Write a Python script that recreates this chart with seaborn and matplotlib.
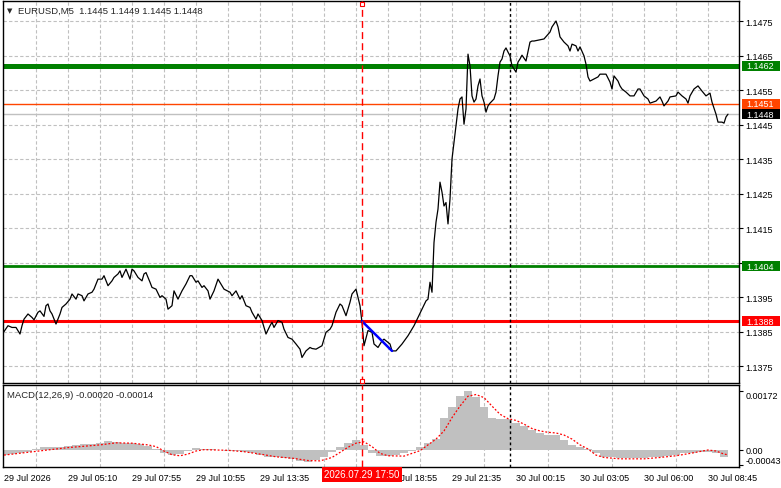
import matplotlib
matplotlib.use("Agg")
import matplotlib.pyplot as plt
from matplotlib.patches import Rectangle
import seaborn as sns

# EURUSD M5 close path, x = bar number counted from the left edge of the chart
bars = [0, 2, 4, 6, 8, 9, 10, 12, 14, 15, 17, 18, 20, 21, 22, 23, 24, 26, 28, 29,
        31, 33, 34, 36, 37, 39, 40, 42, 44, 45, 47, 49, 50, 52, 54, 55, 57, 58, 59, 61,
        63, 64, 65, 67, 69, 70, 71, 73, 74, 76, 78, 79, 81, 82, 84, 85, 87, 89, 91, 93,
        94, 96, 97, 99, 100, 102, 103, 105, 107, 109, 110, 113, 114, 116, 118, 119, 121, 123, 124, 126,
        127, 129, 130, 131, 133, 134, 135, 137, 139, 140, 142, 144, 146, 148, 149, 151, 153, 154, 156, 159,
        161, 163, 164, 166, 168, 169, 171, 173, 174, 176, 178, 179, 180, 182, 184, 185, 187, 189, 190, 193,
        194, 196, 199, 202, 205, 207, 209, 211, 212, 213, 214, 215, 216, 217, 218, 219, 220, 221, 222, 223,
        224, 225, 226, 227, 228, 229, 230, 231, 232, 233, 234, 235, 236, 237, 238, 239, 240, 241, 242, 243,
        245, 246, 247, 248, 249, 250, 251, 252, 253, 254, 255, 256, 257, 258, 259, 261, 263, 264, 265, 270,
        273, 274, 276, 277, 278, 280, 282, 283, 284, 286, 287, 288, 290, 291, 292, 293, 295, 297, 298, 301,
        303, 304, 305, 307, 308, 309, 311, 313, 315, 317, 318, 320, 322, 323, 326, 328, 329, 330, 332, 333,
        336, 337, 339, 341, 342, 343, 345, 347, 349, 351, 353, 354, 356, 357, 359, 360, 361, 362]
close = [1.13850, 1.13867, 1.13862, 1.13862, 1.13843, 1.13867, 1.13886, 1.13901, 1.13891, 1.13884,
         1.13906, 1.13910, 1.13894, 1.13925, 1.13930, 1.13910, 1.13901, 1.13872, 1.13901, 1.13920,
         1.13930, 1.13944, 1.13959, 1.13944, 1.13959, 1.13954, 1.13939, 1.13959, 1.13964, 1.13973,
         1.14002, 1.14002, 1.14012, 1.13983, 1.13997, 1.14007, 1.14017, 1.14026, 1.14007, 1.14031,
         1.14002, 1.14031, 1.14026, 1.14007, 1.13997, 1.14017, 1.14021, 1.13993, 1.13978, 1.13973,
         1.13949, 1.13954, 1.13944, 1.13915, 1.13925, 1.13968, 1.13944, 1.13968, 1.13988, 1.14012,
         1.14012, 1.13993, 1.13997, 1.13978, 1.13983, 1.13968, 1.13944, 1.13968, 1.14002, 1.13983,
         1.13973, 1.13964, 1.13954, 1.13968, 1.13944, 1.13954, 1.13925, 1.13920, 1.13906, 1.13886,
         1.13901, 1.13882, 1.13862, 1.13843, 1.13867, 1.13877, 1.13862, 1.13882, 1.13877, 1.13857,
         1.13833, 1.13828, 1.13814, 1.13799, 1.13775, 1.13794, 1.13804, 1.13801, 1.13799, 1.13809,
         1.13848, 1.13857, 1.13867, 1.13906, 1.13930, 1.13925, 1.13896, 1.13935, 1.13959, 1.13973,
         1.13925, 1.13877, 1.13809, 1.13853, 1.13848, 1.13814, 1.13804, 1.13823, 1.13828, 1.13814,
         1.13794, 1.13794, 1.13814, 1.13838, 1.13867, 1.13891, 1.13915, 1.13939, 1.13944, 1.13993,
         1.13964, 1.14108, 1.14167, 1.14205, 1.14283, 1.14254, 1.14214, 1.14224, 1.14162, 1.14234,
         1.14350, 1.14399, 1.14446, 1.14495, 1.14524, 1.14530, 1.14451, 1.14495, 1.14654, 1.14620,
         1.14533, 1.14515, 1.14524, 1.14562, 1.14582, 1.14533, 1.14515, 1.14486, 1.14504, 1.14512,
         1.14524, 1.14544, 1.14591, 1.14631, 1.14640, 1.14663, 1.14672, 1.14660, 1.14649, 1.14620,
         1.14611, 1.14602, 1.14631, 1.14640, 1.14651, 1.14634, 1.14689, 1.14692, 1.14692, 1.14698,
         1.14718, 1.14733, 1.14750, 1.14733, 1.14704, 1.14689, 1.14678, 1.14663, 1.14683, 1.14678,
         1.14663, 1.14675, 1.14649, 1.14625, 1.14588, 1.14576, 1.14582, 1.14588, 1.14596, 1.14596,
         1.14573, 1.14553, 1.14591, 1.14576, 1.14562, 1.14553, 1.14544, 1.14533, 1.14533, 1.14553,
         1.14553, 1.14533, 1.14524, 1.14512, 1.14518, 1.14530, 1.14518, 1.14504, 1.14518, 1.14530,
         1.14533, 1.14544, 1.14533, 1.14524, 1.14512, 1.14533, 1.14553, 1.14562, 1.14547, 1.14533,
         1.14541, 1.14515, 1.14480, 1.14457, 1.14457, 1.14454, 1.14472, 1.14480]

# horizontal levels drawn on the chart
levels = [1.1462, 1.1451, 1.1448, 1.1404, 1.1388]
level_colors = ["#008000", "#FF4500", "#C0C0C0", "#008000", "#FF0000"]
level_widths = [3.6, 1.0, 1.0, 2.0, 2.2]
level_box = ["#008000", "#FF4500", "#000000", "#008000", "#FF0000"]

# blue trend segment
trend_bars = [179, 194]
trend_prices = [1.1388, 1.13794]

# MACD(12,26,9) histogram, sampled every 4 bars
hist_bars = list(range(0, 361, 4))
hist_vals = [-0.00015, -0.00013, -0.00010, -0.00005, 0.00003, 0.00008, 0.00010, 0.00010, 0.00012, 0.00016,
             0.00018, 0.00019, 0.00022, 0.00026, 0.00024, 0.00021, 0.00020, 0.00017, 0.00012, 0.00003,
             -0.00008, -0.00014, -0.00012, -0.00002, 0.00006, 0.00004, 0.00002, 0.00000, -0.00002, -0.00004,
             -0.00006, -0.00010, -0.00016, -0.00020, -0.00022, -0.00024, -0.00026, -0.00033, -0.00035, -0.00030,
             -0.00022, -0.00005, 0.00010, 0.00020, 0.00028, 0.00015, -0.00008, -0.00018, -0.00018, -0.00016,
             -0.00010, -0.00002, 0.00010, 0.00022, 0.00032, 0.00095, 0.00125, 0.00160, 0.00172, 0.00155,
             0.00125, 0.00095, 0.00092, 0.00090, 0.00080, 0.00070, 0.00060, 0.00050, 0.00045, 0.00044,
             0.00030, 0.00015, 0.00010, 0.00003, -0.00010, -0.00020, -0.00022, -0.00024, -0.00025, -0.00025,
             -0.00024, -0.00022, -0.00020, -0.00017, -0.00014, -0.00010, -0.00008, -0.00005, -0.00005, -0.00008,
             -0.00020]

# signal line
sig_bars = [0, 16, 32, 48, 56, 64, 72, 76, 80, 84, 88, 92, 96, 100, 112, 120, 128, 136, 144, 152,
            158, 164, 168, 172, 176, 180, 184, 188, 192, 200, 208, 216, 220, 224, 228, 232, 236, 240, 244, 248,
            252, 256, 260, 264, 268, 272, 276, 280, 284, 288, 292, 296, 300, 308, 320, 328, 336, 344, 352, 356,
            360, 362]
sig_vals = [-0.00015, -0.00004, 0.00007, 0.00015, 0.00021, 0.00020, 0.00015, 0.00010, -0.00003, -0.00014,
            -0.00017, -0.00012, -0.00003, 0.00001, -0.00001, -0.00005, -0.00012, -0.00020, -0.00024, -0.00031,
            -0.00032, -0.00022, -0.00007, 0.00008, 0.00020, 0.00024, 0.00010, -0.00010, -0.00017, -0.00018,
            -0.00002, 0.00032, 0.00056, 0.00095, 0.00129, 0.00158, 0.00163, 0.00154, 0.00129, 0.00105,
            0.00092, 0.00087, 0.00076, 0.00063, 0.00056, 0.00052, 0.00050, 0.00044, 0.00032, 0.00015,
            0.00003, -0.00015, -0.00022, -0.00026, -0.00026, -0.00022, -0.00017, -0.00009, 0.00000, -0.00003,
            -0.00012, -0.00014]

price_ticks = [1.1375, 1.1385, 1.1395, 1.1405, 1.1415, 1.1425, 1.1435, 1.1445, 1.1455, 1.1465, 1.1475]
hidden_tick = 1.1405  # its label sits under the 1.1404 box
grid_bars = list(range(16, 353, 16))
time_bars = [0, 32, 64, 96, 128, 192, 224, 256, 288, 320, 352]
time_labels = ["29 Jul 2026", "29 Jul 05:10", "29 Jul 07:55", "29 Jul 10:55", "29 Jul 13:35",
               "29 Jul 18:55", "29 Jul 21:35", "30 Jul 00:15", "30 Jul 03:05", "30 Jul 06:00",
               "30 Jul 08:45"]
macd_ticks = [-0.00043, 0.0, 0.00172]
macd_tick_labels = ["-0.00043", "0.00", "0.00172"]
cursor_bar = 179
cursor_label = "2026.07.29 17:50"
day_sep_bar = 253

sns.set_style("white")
plt.rcParams["font.family"] = ["Liberation Sans", "DejaVu Sans"]
FS = 6.5
GRID = "#C0C0C0"

fig = plt.figure(figsize=(7.81, 4.89), dpi=100)
ax = fig.add_axes([3 / 781, 1 - 384 / 489, 736 / 781, 382 / 489])
mx = fig.add_axes([3 / 781, 1 - 468 / 489, 736 / 781, 82 / 489])

for a in (ax, mx):
    a.set_xlim(-0.5, 367.5)
    for s in a.spines.values():
        s.set_color("black")
        s.set_linewidth(1.0)
        s.set_visible(True)
    a.axvline(cursor_bar, color="#FF0000", lw=1.0, ls=(0, (5, 3)), zorder=4)
    a.axvline(day_sep_bar, color="black", lw=1.0, ls=(0, (2, 2)), zorder=4)

# --- price panel
ax.set_ylim(1.13701, 1.14808)
ax.set_xticks(grid_bars)
ax.set_xticklabels([])
ax.tick_params(axis="x", length=0)
ax.grid(axis="x", color=GRID, ls=(0, (3, 2)), lw=0.8)
ax.yaxis.tick_right()
ax.set_yticks(price_ticks)
ax.set_yticklabels(["" if p == hidden_tick else f"{p:.4f}" for p in price_ticks])
ax.tick_params(axis="y", direction="out", length=3, width=0.8, pad=1.5, labelsize=FS, colors="black")
ax.grid(axis="y", color=GRID, ls=(0, (3, 2)), lw=0.8)

box_w = 38 / 736
box_h = 10 / 34500
box_tf = ax.get_yaxis_transform()
for lv, c, w, bc in zip(levels, level_colors, level_widths, level_box):
    ax.axhline(lv, color=c, lw=w, zorder=2)
    ax.add_patch(Rectangle((1.0035, lv - box_h / 2), box_w, box_h, transform=box_tf,
                           fc=bc, ec="none", clip_on=False, zorder=6))
    ax.text(1.0035 + box_w / 2, lv, f"{lv:.4f}", transform=box_tf, ha="center", va="center",
            fontsize=FS, color="white", clip_on=False, zorder=7)

sns.lineplot(x=bars, y=close, ax=ax, color="black", lw=0.9, estimator=None, zorder=3)
sns.lineplot(x=trend_bars, y=trend_prices, ax=ax, color="#0000FF", lw=1.8, estimator=None, zorder=3)
ax.set_xlabel("")
ax.set_ylabel("")

for yf in (0.992, 0.006):
    ax.plot(cursor_bar, yf, marker="s", ms=3.2, mfc="white", mec="#FF0000", mew=0.8,
            transform=ax.get_xaxis_transform(), clip_on=False, zorder=7)

fig.text(7 / 781, 1 - 11 / 489, "\u25BC", fontsize=5, va="center", ha="left", family="DejaVu Sans")
fig.text(18 / 781, 1 - 11 / 489, "EURUSD,M5  1.1445 1.1449 1.1445 1.1448", fontsize=FS + 0.3,
         va="center", ha="left")

# --- MACD panel
mx.set_ylim(-0.0005, 0.00191)
mx.bar(hist_bars, hist_vals, width=4, color="#C0C0C0", lw=0, zorder=2)
sns.lineplot(x=sig_bars, y=sig_vals, ax=mx, color="#FF0000", lw=0.9, ls=(0, (1.5, 1.5)),
             estimator=None, zorder=3)
mx.set_xlabel("")
mx.set_ylabel("")
mx.set_xticks(grid_bars, minor=True)
mx.grid(axis="x", which="minor", color=GRID, ls=(0, (3, 2)), lw=0.8)
mx.set_xticks(time_bars)
mx.set_xticklabels(time_labels, ha="left")
mx.tick_params(axis="x", which="major", direction="out", length=3, width=0.8, pad=1.5,
               labelsize=FS, colors="black")
mx.tick_params(axis="x", which="minor", length=0)
mx.yaxis.tick_right()
mx.set_yticks(macd_ticks)
mx.set_yticklabels(macd_tick_labels)
mx.tick_params(axis="y", direction="out", length=3, width=0.8, pad=1.5, labelsize=FS, colors="black")
mx.get_yticklabels()[0].set_va("bottom")
mx.get_yticklabels()[2].set_va("top")

mx.annotate(cursor_label, xy=(cursor_bar, 0), xycoords=("data", "axes fraction"),
            xytext=(0, -5.4), textcoords="offset points", ha="center", va="center",
            fontsize=FS + 0.5, color="white", annotation_clip=False, zorder=6,
            bbox=dict(boxstyle="square,pad=0.25", fc="#FF0000", ec="none"))

fig.text(7 / 781, 1 - 395 / 489, "MACD(12,26,9) -0.00020 -0.00014", fontsize=FS + 0.3,
         va="center", ha="left")

fig.savefig("out.png", dpi=100, facecolor="white")
